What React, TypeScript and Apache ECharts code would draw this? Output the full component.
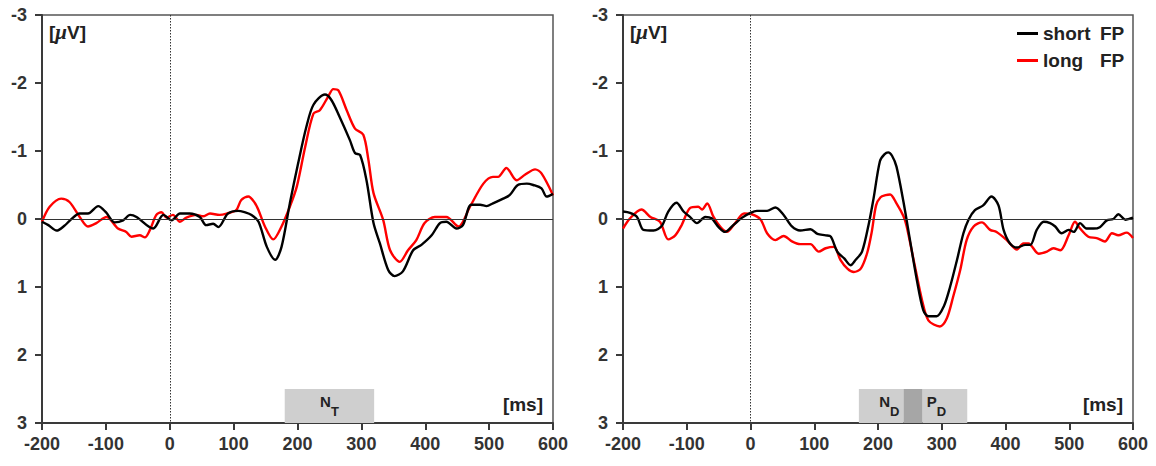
import React, { useEffect, useRef } from "react";
import * as echarts from "echarts";

// time [ms], amplitude [µV]
const leftShort: [number, number][] = [
  [-200, 0.04], [-190, 0.09], [-177, 0.17], [-165, 0.1], [-156, 0.02], [-141, -0.08], [-128, -0.08],
  [-112, -0.19], [-100, -0.1], [-86, 0.05], [-73, 0.02], [-62, -0.06], [-52, -0.03], [-26, 0.14],
  [-10, -0.06], [3, 0.02], [16, -0.08], [31, -0.08], [47, -0.03], [57, 0.09], [68, 0.07], [76, 0.12],
  [91, -0.08], [107, -0.12], [117, -0.1], [128, -0.06], [139, 0.04], [152, 0.41], [165, 0.6],
  [175, 0.41], [188, -0.23], [201, -0.82], [214, -1.36], [225, -1.68], [243, -1.83], [253, -1.75],
  [266, -1.5], [282, -1.16], [290, -0.97], [298, -0.94], [308, -0.57], [319, 0.06], [329, 0.36],
  [342, 0.75], [352, 0.84], [365, 0.77], [381, 0.46], [394, 0.38], [410, 0.24], [423, 0.06],
  [433, 0.04], [449, 0.14], [459, 0.09], [472, -0.21], [486, -0.21], [496, -0.19], [506, -0.23],
  [522, -0.3], [532, -0.35], [545, -0.5], [559, -0.52], [569, -0.5], [582, -0.45], [590, -0.33],
  [600, -0.37],
];
const leftLong: [number, number][] = [
  [-200, 0.04], [-188, -0.18], [-170, -0.3], [-157, -0.25], [-141, -0.03], [-128, 0.11], [-115, 0.06],
  [-99, -0.03], [-81, 0.14], [-68, 0.19], [-60, 0.26], [-47, 0.24], [-39, 0.27], [-31, 0.16],
  [-21, -0.06], [-13, -0.1], [-5, -0.02], [5, -0.06], [16, 0.04], [26, -0.02], [42, -0.06],
  [52, -0.04], [63, -0.08], [78, -0.06], [89, -0.08], [104, -0.13], [112, -0.28], [123, -0.33],
  [133, -0.24], [139, -0.13], [149, 0.11], [162, 0.3], [175, 0.11], [188, -0.18], [199, -0.48],
  [212, -1.06], [225, -1.55], [235, -1.6], [248, -1.8], [256, -1.91], [264, -1.89], [277, -1.6],
  [290, -1.33], [303, -1.24], [311, -0.87], [319, -0.38], [334, 0.01], [345, 0.46], [360, 0.63],
  [373, 0.46], [386, 0.31], [399, 0.06], [415, -0.03], [433, -0.03], [452, 0.11], [470, -0.18],
  [491, -0.52], [506, -0.62], [514, -0.62], [527, -0.75], [543, -0.57], [556, -0.65], [572, -0.73],
  [582, -0.67], [600, -0.35],
];
const rightShort: [number, number][] = [
  [-200, -0.11], [-189, -0.09], [-178, -0.03], [-168, 0.16], [-152, 0.17], [-139, 0.1], [-129, -0.11],
  [-116, -0.24], [-105, -0.11], [-95, -0.03], [-84, 0.06], [-71, -0.03], [-61, -0.01], [-50, 0.12],
  [-40, 0.19], [-27, 0.09], [-13, -0.02], [0, -0.09], [10, -0.12], [26, -0.12], [39, -0.17],
  [52, -0.06], [65, 0.11], [78, 0.17], [94, 0.15], [105, 0.22], [118, 0.24], [126, 0.26], [136, 0.48],
  [147, 0.58], [157, 0.68], [165, 0.6], [175, 0.48], [186, 0.05], [193, -0.3], [203, -0.85],
  [210, -0.95], [216, -0.98], [222, -0.93], [229, -0.77], [240, -0.25], [250, 0.3], [261, 0.9],
  [271, 1.34], [279, 1.43], [292, 1.43], [303, 1.29], [313, 1.0], [324, 0.6], [334, 0.21],
  [342, 0.01], [352, -0.13], [365, -0.2], [378, -0.33], [389, -0.2], [397, 0.16], [407, 0.36],
  [418, 0.42], [431, 0.38], [439, 0.38], [449, 0.16], [460, 0.04], [470, 0.06], [478, 0.11],
  [488, 0.21], [499, 0.16], [507, 0.19], [517, 0.06], [527, 0.14], [538, 0.14], [548, 0.12],
  [559, 0.02], [569, 0.0], [577, -0.07], [588, 0.01], [600, -0.02],
];
const rightLong: [number, number][] = [
  [-200, 0.14], [-189, -0.01], [-171, -0.14], [-157, -0.03], [-142, 0.04], [-129, 0.3], [-118, 0.24],
  [-108, 0.09], [-95, -0.16], [-82, -0.18], [-76, -0.14], [-68, -0.23], [-58, -0.03], [-47, 0.12],
  [-37, 0.19], [-24, 0.06], [-10, -0.08], [2, -0.07], [16, 0.01], [26, 0.21], [39, 0.31], [52, 0.25],
  [65, 0.33], [78, 0.37], [94, 0.37], [107, 0.48], [118, 0.43], [131, 0.41], [141, 0.6], [152, 0.73],
  [162, 0.78], [173, 0.73], [183, 0.5], [190, 0.2], [197, -0.2], [204, -0.32], [212, -0.35],
  [219, -0.36], [229, -0.23], [240, -0.04], [245, 0.11], [258, 0.7], [269, 1.19], [279, 1.49],
  [297, 1.58], [308, 1.46], [318, 1.14], [329, 0.75], [339, 0.31], [350, 0.11], [363, 0.05],
  [376, 0.16], [386, 0.19], [402, 0.31], [418, 0.45], [428, 0.36], [436, 0.36], [452, 0.51],
  [465, 0.48], [475, 0.43], [486, 0.46], [499, 0.24], [509, 0.04], [517, 0.14], [530, 0.26],
  [543, 0.28], [556, 0.33], [567, 0.21], [577, 0.24], [590, 0.2], [600, 0.28],
];

const seriesNames = ["short FP", "long FP"];
const xTicks = { min: -200, max: 600, step: 100 };
const yTicks = { min: -3, max: 3, step: 1 };
// analysis windows [start, end] in ms
const ntWindow = [180, 320];
const ndWindow = [170, 240];
const overlapWindow = [240, 270];
const pdWindow = [270, 340];
const windowBand = [2.5, 3];

const FONT = '"Liberation Sans", Arial, sans-serif';
const AXIS_COLOR = "#3a3a3a";

function makeX(gridIndex: number) {
  return {
    gridIndex,
    type: "value",
    min: xTicks.min,
    max: xTicks.max,
    interval: xTicks.step,
    axisLine: { show: true, onZero: false, lineStyle: { color: AXIS_COLOR, width: 2 } },
    axisTick: { show: true, length: 7, lineStyle: { color: AXIS_COLOR, width: 2 } },
    axisLabel: { margin: 12, fontSize: 18, fontWeight: "bold", color: "#333", fontFamily: FONT },
    splitLine: { show: false },
  };
}
function makeY(gridIndex: number) {
  return {
    gridIndex,
    type: "value",
    min: yTicks.min,
    max: yTicks.max,
    interval: yTicks.step,
    inverse: true,
    axisLine: { show: true, onZero: false, lineStyle: { color: AXIS_COLOR, width: 2 } },
    axisTick: { show: true, length: 7, lineStyle: { color: AXIS_COLOR, width: 2 } },
    axisLabel: { margin: 15, fontSize: 18, fontWeight: "bold", color: "#333", fontFamily: FONT },
    splitLine: { show: false },
  };
}

const subRich = {
  n: { fontSize: 15, fontWeight: "bold", color: "#222", fontFamily: FONT, lineHeight: 24, verticalAlign: "top" },
  s: { fontSize: 13, fontWeight: "bold", color: "#222", fontFamily: FONT, lineHeight: 24, verticalAlign: "bottom" },
};

function refLines() {
  return {
    silent: true,
    symbol: ["none", "none"],
    label: { show: false },
    emphasis: { disabled: true },
    data: [
      { yAxis: 0, lineStyle: { type: "solid", color: "#333", width: 1.2 } },
      { xAxis: 0, lineStyle: { type: [1.5, 1.5], color: "#333", width: 1 } },
    ],
  };
}

function area(win: number[], color: string, text: string, pos: string) {
  return [
    {
      xAxis: win[0],
      yAxis: windowBand[0],
      itemStyle: { color, opacity: 1 },
      label: { show: text !== "", position: pos, distance: 4, formatter: text, rich: subRich },
    },
    { xAxis: win[1], yAxis: windowBand[1] },
  ];
}

function lineSeries(name: string, data: [number, number][], idx: number, color: string, extra: any = {}) {
  return {
    name,
    type: "line",
    xAxisIndex: idx,
    yAxisIndex: idx,
    data,
    showSymbol: false,
    symbol: "none",
    smooth: 0.3,
    lineStyle: { color, width: 2.4 },
    itemStyle: { color },
    emphasis: { disabled: true },
    ...extra,
  };
}

export default function App() {
  const ref = useRef<HTMLDivElement>(null);
  useEffect(() => {
    if (!ref.current) return;
    const chart = echarts.init(ref.current, undefined, { renderer: "svg" });
    const gridBase = { top: 15, height: 408, show: true, borderColor: "#555", borderWidth: 1.5, backgroundColor: "transparent" };
    const option: any = {
      animation: false,
      backgroundColor: "#fff",
      grid: [
        { ...gridBase, left: 42, width: 511 },
        { ...gridBase, left: 623, width: 510 },
      ],
      xAxis: [makeX(0), makeX(1)],
      yAxis: [makeY(0), makeY(1)],
      legend: {
        data: seriesNames,
        orient: "vertical",
        left: 1012,
        top: 19,
        itemWidth: 21,
        itemHeight: 3,
        itemGap: 8,
        icon: "rect",
        selectedMode: false,
        formatter: (name: string) => {
          const parts = name.split(" ");
          return `{a|${parts[0]}}{b|${parts[1]}}`;
        },
        textStyle: {
          fontSize: 19,
          fontWeight: "bold",
          color: "#222",
          fontFamily: FONT,
          rich: {
            a: { width: 57, fontSize: 19, fontWeight: "bold", color: "#222", fontFamily: FONT, lineHeight: 20 },
            b: { fontSize: 19, fontWeight: "bold", color: "#222", fontFamily: FONT, lineHeight: 20 },
          },
        },
      },
      series: [
        lineSeries(seriesNames[1], leftLong, 0, "#ff0000", {
          markLine: refLines(),
          markArea: { silent: true, data: [area(ntWindow, "#cfcfcf", "{n|N}{s|T}", "inside")] },
        }),
        lineSeries(seriesNames[0], leftShort, 0, "#000000"),
        lineSeries(seriesNames[1], rightLong, 1, "#ff0000", {
          markLine: refLines(),
          markArea: {
            silent: true,
            data: [
              area(ndWindow, "#cfcfcf", "{n|N}{s|D}", "insideRight"),
              area(overlapWindow, "#a6a6a6", "", "inside"),
              area(pdWindow, "#cfcfcf", "{n|P}{s|D}", "insideLeft"),
            ],
          },
        }),
        lineSeries(seriesNames[0], rightShort, 1, "#000000"),
      ],
      graphic: [
        ...[49, 630].map((x) => ({
          type: "text",
          x,
          y: 32,
          silent: true,
          style: {
            text: "{a|[}{b|μ}{a|V]}",
            verticalAlign: "middle",
            rich: {
              a: { fontSize: 19, fontWeight: "bold", fontFamily: FONT, fill: "#222" },
              b: { fontSize: 21, fontStyle: "italic", fontWeight: "bold", fontFamily: '"Liberation Serif", serif', fill: "#222" },
            },
          },
        })),
        ...[543, 1123].map((x) => ({
          type: "text",
          x,
          y: 404,
          silent: true,
          style: {
            text: "[ms]",
            align: "right",
            verticalAlign: "middle",
            fontSize: 19,
            fontWeight: "bold",
            fontFamily: FONT,
            fill: "#222",
          },
        })),
      ],
    };
    chart.setOption(option);
    return () => chart.dispose();
  }, []);
  return <div ref={ref} style={{ position: "absolute", left: 0, top: 0, width: 1156, height: 466 }} />;
}
